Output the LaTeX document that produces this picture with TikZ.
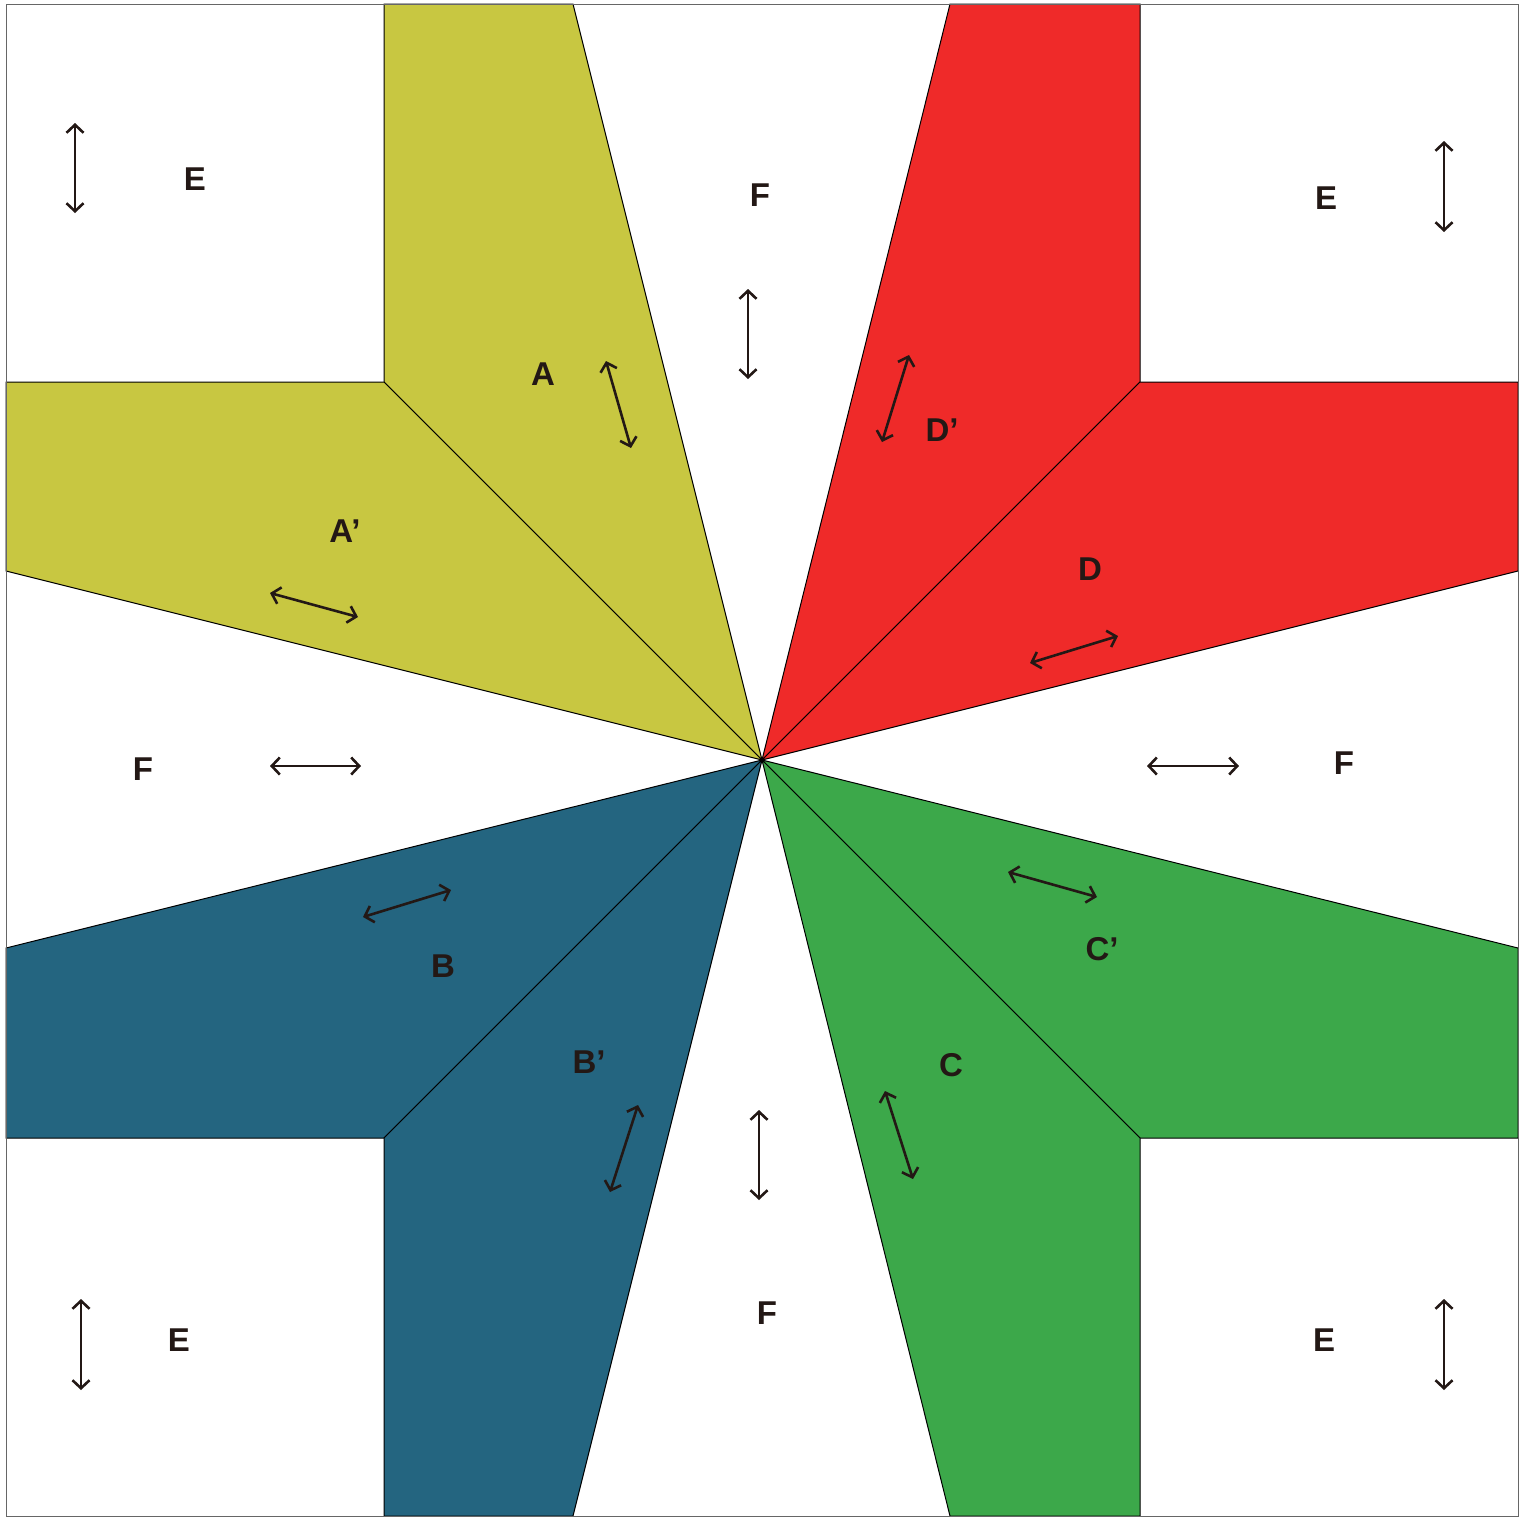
\documentclass[tikz,border=0pt]{standalone}
\usepackage{fontspec}
\setmainfont{Liberation Sans}
\usetikzlibrary{arrows.meta}
\definecolor{ylw}{RGB}{200,199,65}
\definecolor{rd}{RGB}{239,42,41}
\definecolor{bl}{RGB}{36,101,128}
\definecolor{gr}{RGB}{60,168,74}
\definecolor{ink}{RGB}{35,24,21}
\tikzset{
  patch/.style={draw=black,line width=0.5pt,line join=miter},
  lbl/.style={font=\fontsize{16.5pt}{18pt}\selectfont\bfseries,text=ink,inner sep=0pt},
  grain/.style={draw=ink,line width=1.3pt,{Straight Barb[length=4pt,width=8.5pt,line width=1.3pt]}-{Straight Barb[length=4pt,width=8.5pt,line width=1.3pt]}}
}
\begin{document}
\begin{tikzpicture}[x=0.5pt,y=-0.5pt]
\useasboundingbox (0,0) rectangle (1528,1517);
\fill[white] (0,0) rectangle (1528,1517);
\coordinate (O) at (762,760);
% white background square
\draw[draw=black!60,line width=0.5pt,fill=white] (6,4) rectangle (1518,1516);
% yellow
\path[patch,fill=ylw] (384,4) -- (573,4) -- (O) -- (384,382) -- cycle;
\path[patch,fill=ylw] (6,382) -- (384,382) -- (O) -- (6,571) -- cycle;
% red
\path[patch,fill=rd] (950,4) -- (1140,4) -- (1140,382) -- (O) -- cycle;
\path[patch,fill=rd] (1140,382) -- (1518,382) -- (1518,571) -- (O) -- cycle;
% green
\path[patch,fill=gr] (O) -- (1518,948) -- (1518,1138) -- (1140,1138) -- cycle;
\path[patch,fill=gr] (O) -- (1140,1138) -- (1140,1516) -- (950,1516) -- cycle;
% blue
\path[patch,fill=bl] (6,948) -- (O) -- (384,1138) -- (6,1138) -- cycle;
\path[patch,fill=bl] (384,1138) -- (O) -- (573,1516) -- (384,1516) -- cycle;
% outer border on top
\draw[draw=black!60,line width=0.5pt] (6,4) rectangle (1518,1516);
% labels
\node[lbl] (e1) at (195,179) {E};
\node[lbl] (e2) at (1326,198) {E};
\node[lbl] (e3) at (179,1340) {E};
\node[lbl] (e4) at (1324,1340) {E};
\node[lbl] (f1) at (760,195) {F};
\node[lbl] (f2) at (143,769) {F};
\node[lbl] (f3) at (1344,763) {F};
\node[lbl] (f4) at (767,1313) {F};
\node[lbl] (a) at (543,374) {A};
\node[lbl] (a2) at (345,531) {A’};
\node[lbl] (d2) at (942,430) {D’};
\node[lbl] (d) at (1090,569) {D};
\node[lbl] (b) at (443,966) {B};
\node[lbl] (b2) at (589,1062) {B’};
\node[lbl] (c2) at (1102,949) {C’};
\node[lbl] (c) at (951,1065) {C};
% grain arrows
\coordinate (e1s) at (75,123); \coordinate (e1t) at (75,213);
\coordinate (e2s) at (1444,141); \coordinate (e2t) at (1444,232);
\coordinate (e3s) at (81,1299); \coordinate (e3t) at (81,1390);
\coordinate (e4s) at (1444,1299); \coordinate (e4t) at (1444,1390);
\coordinate (f1s) at (748,289); \coordinate (f1t) at (748,379);
\coordinate (f2s) at (270,766); \coordinate (f2t) at (361,766);
\coordinate (f3s) at (1147,766); \coordinate (f3t) at (1239,766);
\coordinate (f4s) at (759,1110); \coordinate (f4t) at (759,1200);
\coordinate (as) at (606,361); \coordinate (at) at (631,448);
\coordinate (a2s) at (270,593); \coordinate (a2t) at (358,617);
\coordinate (d2s) at (909,355); \coordinate (d2t) at (882,442);
\coordinate (ds) at (1030,663); \coordinate (dt) at (1118,636);
\coordinate (bs) at (363,917); \coordinate (bt) at (451,890);
\coordinate (b2s) at (638,1105); \coordinate (b2t) at (610,1192);
\coordinate (c2s) at (1008,872); \coordinate (c2t) at (1097,897);
\coordinate (cs) at (885,1091); \coordinate (ct) at (913,1179);
\foreach \n in {e1,e2,e3,e4,f1,f2,f3,f4,a,a2,d2,d,b,b2,c2,c}
  \draw[grain] (\n s) -- (\n t);
\end{tikzpicture}
\end{document}
